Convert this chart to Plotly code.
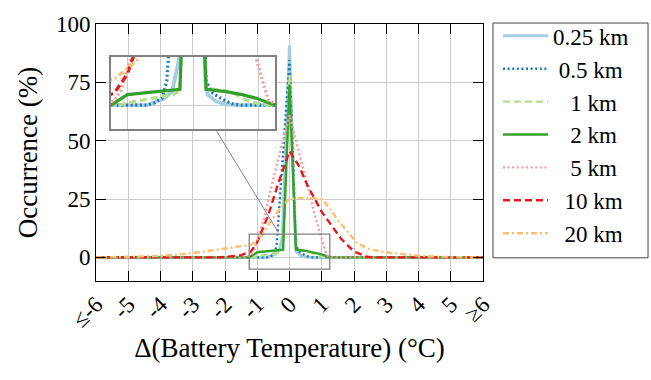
import plotly.graph_objects as go

# ---------------- data ----------------
tick_vals = [-6, -5, -4, -3, -2, -1, 0, 1, 2, 3, 4, 5, 6]
tick_text = ["≤-6", "-5", "-4", "-3", "-2", "-1", "0", "1", "2", "3", "4", "5", "≥6"]
y_tick_vals = [0, 25, 50, 75, 100]

names = ["0.25 km", "0.5 km", "1 km", "2 km", "5 km", "10 km", "20 km"]

x_025 = [-6, -0.7, -0.45, -0.32, -0.22, 0, 0.19, 0.22, 0.35, 0.5, 0.7, 6]
y_025 = [0, 0, 1.3, 2.8, 9, 90.9, 5, 2.2, 0.8, 0.2, 0, 0]

x_05 = [-6, -0.7, -0.6, -0.47, -0.4, 0, 0.2, 0.3, 0.45, 0.6, 0.75, 6]
y_05 = [0, 0, 0.4, 1.5, 5, 84.5, 5, 2.5, 1.2, 0.3, 0, 0]

x_1 = [-6, -1.15, -0.8, -0.5, -0.3, -0.2, 0, 0.2, 0.5, 0.65, 0.8, 1.0, 1.2, 6]
y_1 = [0, 0, 1, 1.7, 2.2, 3, 78, 3.5, 3, 2.3, 1.1, 0.3, 0, 0]

x_2 = [-6, -1.25, -1.0, -0.5, -0.2, 0, 0.2, 0.5, 0.75, 1.0, 1.25, 6]
y_2 = [0, 0, 2.2, 2.8, 3.3, 74, 3.3, 2.8, 2.2, 1.3, 0, 0]

x_5 = [-6, -1.35, -1.2, -1.1, -0.8, -0.55, 0, 0.5, 0.8, 1.05, 1.15, 1.3, 6]
y_5 = [0, 0, 1, 3, 16, 31, 61, 33, 17.5, 5.5, 1, 0, 0]

x_10 = [-6, -2.2, -1.8, -1.5, -1.2, -1.0, -0.66, -0.35, 0, 0.3, 0.55, 1.0, 1.6, 2.0, 2.4, 2.7, 6]
y_10 = [0, 0, 0.5, 1, 2.5, 6.5, 18, 31.7, 45.5, 39, 31, 19.5, 8, 2.5, 0.3, 0, 0]

x_20 = [-6, -5, -4, -3, -2, -1.2, -0.85, -0.6, -0.35, -0.2, 0, 0.5, 1.0, 1.25, 1.5, 1.9, 2.1, 2.5, 3.1, 4.1, 4.8, 6]
y_20 = [0, 0.2, 0.6, 1.8, 3.7, 5.4, 9.3, 15, 19.8, 22.5, 25, 25.5, 25, 21, 16, 9.5, 6, 3.4, 2, 0.6, 0.2, 0]

xs = [x_025, x_05, x_1, x_2, x_5, x_10, x_20]
ys = [y_025, y_05, y_1, y_2, y_5, y_10, y_20]

# ---------------- styles ----------------
colors = ["#a6cee3", "#1f78b4", "#b2df8a", "#33a02c", "#fb9a99", "#e31a1c", "#fdbf6f"]
dashes = ["solid", "2px,2.6px", "7px,4px", "solid", "2px,2.6px", "7px,4px", "6px,3px,2px,3px"]
widths = [3, 2.4, 2.4, 2.4, 2.4, 2.4, 2.4]
pads = ["", "\u00a0", "\u00a0\u00a0\u00a0", "\u00a0\u00a0\u00a0", "\u00a0\u00a0\u00a0", "\u00a0\u00a0", "\u00a0\u00a0"]

FONT = "Liberation Serif"
GRID = "#cccccc"
X_RANGE = [-6, 6]
Y_RANGE = [-10.1, 100]
INSET_X = [-1.25, 1.25]
INSET_Y = [-5, 10]
INSET_DOM_X = [0.0388, 0.4625]
INSET_DOM_Y = [0.590, 0.872]

fig = go.Figure()
for i in range(len(names)):
    fig.add_trace(go.Scatter(
        x=xs[i], y=ys[i], mode="lines", name=pads[i] + names[i],
        line=dict(color=colors[i], width=widths[i], dash=dashes[i]),
        xaxis="x", yaxis="y"))
for i in range(len(names)):
    fig.add_trace(go.Scatter(
        x=xs[i], y=ys[i], mode="lines", showlegend=False,
        line=dict(color=colors[i], width=widths[i] + 0.8, dash=dashes[i]),
        xaxis="x2", yaxis="y2", hoverinfo="skip"))

axis_common = dict(showline=True, linecolor="black", linewidth=1, mirror="ticks",
                   ticks="inside", ticklen=10, tickcolor="black", tickwidth=1,
                   showgrid=True, gridcolor=GRID, gridwidth=1, zeroline=False,
                   tickfont=dict(family=FONT, size=23, color="black"))

fig.update_layout(
    width=651, height=380,
    margin=dict(l=96, r=168, t=15, b=99),
    paper_bgcolor="white", plot_bgcolor="white",
    font=dict(family=FONT, color="black"),
    xaxis=dict(domain=[0, 1], range=X_RANGE, tickvals=tick_vals, ticktext=tick_text,
               tickangle=-45,
               title=dict(text="Δ(Battery Temperature) (°C)", font=dict(family=FONT, size=27),
                          standoff=6),
               **axis_common),
    yaxis=dict(domain=[0, 1], range=Y_RANGE, tickvals=y_tick_vals,
               title=dict(text="Occurrence (%)", font=dict(family=FONT, size=27), standoff=10),
               **axis_common),
    xaxis2=dict(domain=INSET_DOM_X, anchor="y2", range=INSET_X, dtick=0.5, tick0=0,
                showticklabels=False, ticks="", showgrid=True, gridcolor=GRID, zeroline=False,
                showline=True, mirror=True, linecolor="#808080", linewidth=2),
    yaxis2=dict(domain=INSET_DOM_Y, anchor="x2", range=INSET_Y, tickvals=[0],
                showticklabels=False, ticks="", showgrid=True, gridcolor=GRID, zeroline=False,
                showline=True, mirror=True, linecolor="#808080", linewidth=2),
    legend=dict(x=1.0388, y=1.0376, xanchor="left", yanchor="top",
                bgcolor="rgba(0,0,0,0)", borderwidth=0,
                font=dict(family=FONT, size=23, color="black"), itemwidth=45,
                maxheight=400),
    showlegend=True,
)

# white background of the inset (above main subplot, below inset grid)
fig.add_shape(type="rect", xref="x2 domain", yref="y2 domain", x0=0, x1=1, y0=0, y1=1,
              fillcolor="white", line=dict(width=0), layer="below")

# legend frame
fig.add_shape(type="rect", xref="paper", yref="paper", x0=1.0258, x1=1.4264,
              y0=0.0902, y1=1.0038, line=dict(color="#444444", width=1), layer="below")

# zoom rectangle on main axes
fig.add_shape(type="rect", xref="x", yref="y", x0=INSET_X[0], x1=INSET_X[1],
              y0=INSET_Y[0], y1=INSET_Y[1], line=dict(color="#808080", width=1.3),
              layer="above")

# connector line from inset bottom to the zoomed region
def to_paper_x(v):
    return (v - X_RANGE[0]) / (X_RANGE[1] - X_RANGE[0])

def to_paper_y(v):
    return (v - Y_RANGE[0]) / (Y_RANGE[1] - Y_RANGE[0])

fig.add_shape(type="line", xref="paper", yref="paper",
              x0=0.309, y0=INSET_DOM_Y[0], x1=to_paper_x(-0.35), y1=to_paper_y(10.8),
              line=dict(color="#808080", width=1), layer="above")

fig.write_html("out.html")
